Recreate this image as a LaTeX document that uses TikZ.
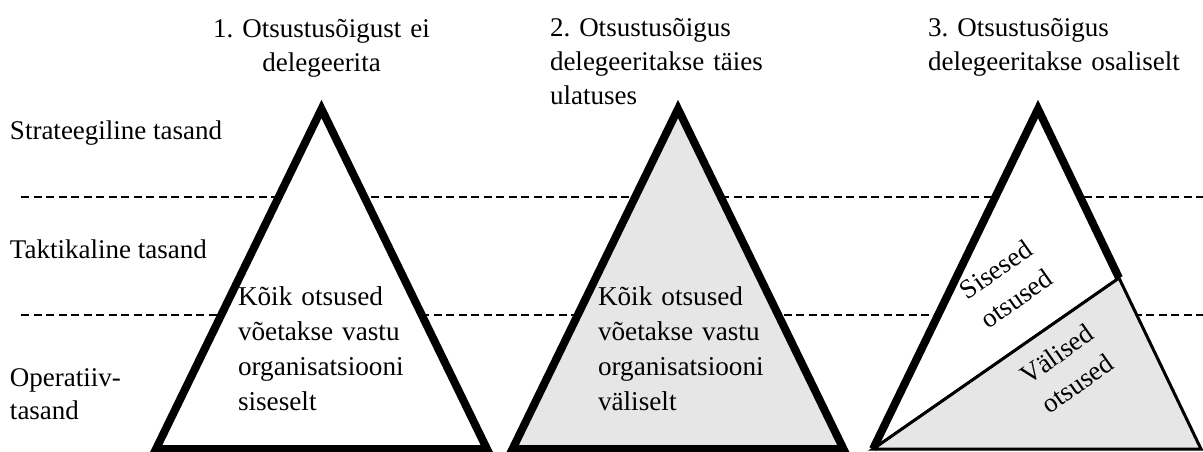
\documentclass[tikz,border=0pt]{standalone}
\usepackage{fontspec}
\setmainfont{Liberation Serif}
\usetikzlibrary{calc}
\definecolor{fillgray}{RGB}{230,230,230}
\frenchspacing
\begin{document}
\begin{tikzpicture}[x=0.5pt,y=-0.5pt,
  every node/.style={inner sep=0pt, outer sep=0pt},
  txt/.style={font=\fontsize{13.5}{17}\selectfont, anchor=base west, align=left},
  body/.style={font=\fontsize{13.6}{17.5}\selectfont, anchor=base west, text width=95pt, align=left},
  rot/.style={font=\fontsize{13.5}{18}\selectfont, align=center, rotate=35},
  level/.style={line width=1pt, dash pattern=on 4pt off 2.25pt},
  thickside/.style={line width=4pt, line join=miter},
  thinside/.style={line width=1.5pt, line join=miter}]
\useasboundingbox (0,0) rectangle (1203,451);

% level separators
\coordinate (d1a) at (21,197);  \coordinate (d1b) at (1203,197);
\coordinate (d2a) at (21,315);  \coordinate (d2b) at (1203,315);
\draw[level] (d1a) -- (d1b);
\draw[level] (d2a) -- (d2b);

% triangle 1
\coordinate (t1a) at (321.5,109);
\coordinate (t1l) at (156,449);
\coordinate (t1r) at (487,449);
\filldraw[fill=white, thickside] (t1a) -- (t1l) -- (t1r) -- cycle;

% triangle 2
\coordinate (t2a) at (678,109);
\coordinate (t2l) at (512.5,449);
\coordinate (t2r) at (843.5,449);
\filldraw[fill=fillgray, thickside] (t2a) -- (t2l) -- (t2r) -- cycle;

% triangle 3
\coordinate (t3a) at (1038,109);
\coordinate (t3l) at (873,449);
\coordinate (t3r) at (1201,449);
\coordinate (t3p) at ($(t3a)!0.497!(t3r)$);
\fill[white] (t3a) -- (t3l) -- (t3r) -- cycle;
\filldraw[fill=fillgray, thinside] (t3l) -- (t3p) -- (t3r) -- cycle;
\draw[thickside] (t3l) -- (t3a) -- (t3p);
\draw[line width=1.2pt] (t3l) -- (t3p);

% titles
\node[txt, anchor=base, text width=125pt, align=center] (h1) at (321.5,37) {1. Otsustusõigust ei\\delegeerita};
\node[txt, text width=115pt] (h2) at (550,36) {2. Otsustusõigus\\delegeeritakse täies\\ulatuses};
\node[txt, text width=130pt] (h3) at (928,36) {3. Otsustusõigus\\delegeeritakse osaliselt};

% level labels
\node[txt] (l1) at (10,139) {Strateegiline tasand};
\node[txt] (l2) at (10,258) {Taktikaline tasand};
\node[txt, font=\fontsize{13.5}{16.5}\selectfont, text width=80pt] (l3) at (10,386) {Operatiiv-\\tasand};

% triangle texts
\node[body] (b1) at (238,305) {Kõik otsused\\võetakse vastu\\organisatsiooni\\siseselt};
\node[body] (b2) at (598,305) {Kõik otsused\\võetakse vastu\\organisatsiooni\\väliselt};
\node[rot] (s1) at (1006,284) {Sisesed\\otsused};
\node[rot] (s2) at (1067,369) {Välised\\otsused};
\end{tikzpicture}
\end{document}
